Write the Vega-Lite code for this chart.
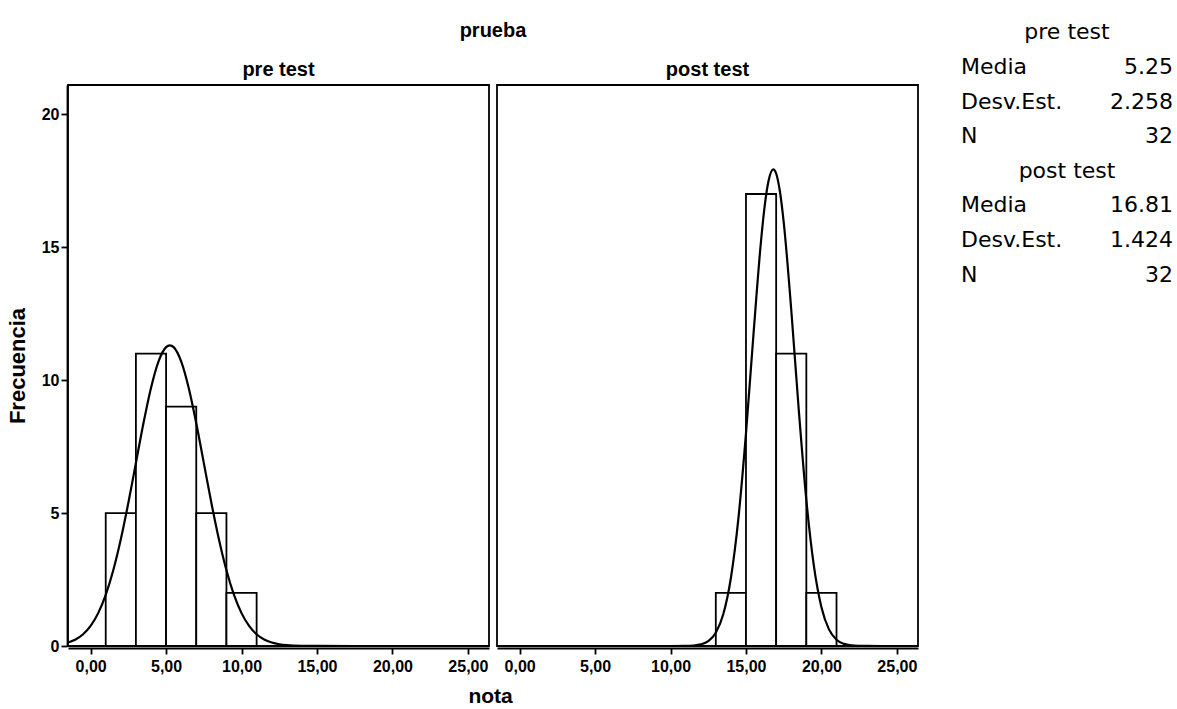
{
  "$schema": "https://vega.github.io/schema/vega-lite/v6.json",
  "background": "white",
  "padding": {"top": 21, "left": 6, "right": 0, "bottom": 0},
  "config": {
    "font": "Liberation Sans",
    "view": {"stroke": "black", "strokeWidth": 1.8},
    "axis": {
      "domainColor": "black", "tickColor": "black", "labelColor": "black", "titleColor": "black",
      "labelFont": "Liberation Sans", "labelFontWeight": "bold", "labelFontSize": 16,
      "titleFont": "Liberation Sans", "titleFontWeight": "bold", "titleFontSize": 22,
      "grid": false, "tickSize": 6, "tickWidth": 1.8, "domainWidth": 1.8
    }
  },
  "datasets": {
    "histo": [
      {"prueba": "pre test", "tipo": "barra", "desde": 1, "hasta": 3, "frecuencia": 5},
      {"prueba": "pre test", "tipo": "barra", "desde": 3, "hasta": 5, "frecuencia": 11},
      {"prueba": "pre test", "tipo": "barra", "desde": 5, "hasta": 7, "frecuencia": 9},
      {"prueba": "pre test", "tipo": "barra", "desde": 7, "hasta": 9, "frecuencia": 5},
      {"prueba": "pre test", "tipo": "barra", "desde": 9, "hasta": 11, "frecuencia": 2},
      {"prueba": "post test", "tipo": "barra", "desde": 13, "hasta": 15, "frecuencia": 2},
      {"prueba": "post test", "tipo": "barra", "desde": 15, "hasta": 17, "frecuencia": 17},
      {"prueba": "post test", "tipo": "barra", "desde": 17, "hasta": 19, "frecuencia": 11},
      {"prueba": "post test", "tipo": "barra", "desde": 19, "hasta": 21, "frecuencia": 2},
      {"prueba": "pre test", "tipo": "curva", "nota": -1.5, "densidad": 0.130},
      {"prueba": "pre test", "tipo": "curva", "nota": -1.0, "densidad": 0.245},
      {"prueba": "pre test", "tipo": "curva", "nota": -0.5, "densidad": 0.442},
      {"prueba": "pre test", "tipo": "curva", "nota": 0.0, "densidad": 0.758},
      {"prueba": "pre test", "tipo": "curva", "nota": 0.5, "densidad": 1.237},
      {"prueba": "pre test", "tipo": "curva", "nota": 1.0, "densidad": 1.924},
      {"prueba": "pre test", "tipo": "curva", "nota": 1.5, "densidad": 2.848},
      {"prueba": "pre test", "tipo": "curva", "nota": 2.0, "densidad": 4.014},
      {"prueba": "pre test", "tipo": "curva", "nota": 2.5, "densidad": 5.387},
      {"prueba": "pre test", "tipo": "curva", "nota": 3.0, "densidad": 6.884},
      {"prueba": "pre test", "tipo": "curva", "nota": 3.5, "densidad": 8.376},
      {"prueba": "pre test", "tipo": "curva", "nota": 4.0, "densidad": 9.703},
      {"prueba": "pre test", "tipo": "curva", "nota": 4.5, "densidad": 10.703},
      {"prueba": "pre test", "tipo": "curva", "nota": 5.0, "densidad": 11.241},
      {"prueba": "pre test", "tipo": "curva", "nota": 5.25, "densidad": 11.31},
      {"prueba": "pre test", "tipo": "curva", "nota": 5.5, "densidad": 11.241},
      {"prueba": "pre test", "tipo": "curva", "nota": 6.0, "densidad": 10.703},
      {"prueba": "pre test", "tipo": "curva", "nota": 6.5, "densidad": 9.703},
      {"prueba": "pre test", "tipo": "curva", "nota": 7.0, "densidad": 8.376},
      {"prueba": "pre test", "tipo": "curva", "nota": 7.5, "densidad": 6.884},
      {"prueba": "pre test", "tipo": "curva", "nota": 8.0, "densidad": 5.387},
      {"prueba": "pre test", "tipo": "curva", "nota": 8.5, "densidad": 4.014},
      {"prueba": "pre test", "tipo": "curva", "nota": 9.0, "densidad": 2.848},
      {"prueba": "pre test", "tipo": "curva", "nota": 9.5, "densidad": 1.924},
      {"prueba": "pre test", "tipo": "curva", "nota": 10.0, "densidad": 1.237},
      {"prueba": "pre test", "tipo": "curva", "nota": 10.5, "densidad": 0.758},
      {"prueba": "pre test", "tipo": "curva", "nota": 11.0, "densidad": 0.442},
      {"prueba": "pre test", "tipo": "curva", "nota": 11.5, "densidad": 0.245},
      {"prueba": "pre test", "tipo": "curva", "nota": 12.0, "densidad": 0.130},
      {"prueba": "pre test", "tipo": "curva", "nota": 12.5, "densidad": 0.065},
      {"prueba": "pre test", "tipo": "curva", "nota": 13.0, "densidad": 0.031},
      {"prueba": "pre test", "tipo": "curva", "nota": 14.0, "densidad": 0.006},
      {"prueba": "pre test", "tipo": "curva", "nota": 15.0, "densidad": 0.001},
      {"prueba": "pre test", "tipo": "curva", "nota": 20.0, "densidad": 0.0},
      {"prueba": "pre test", "tipo": "curva", "nota": 26.4, "densidad": 0.0},
      {"prueba": "post test", "tipo": "curva", "nota": -1.5, "densidad": 0.0},
      {"prueba": "post test", "tipo": "curva", "nota": 5.0, "densidad": 0.0},
      {"prueba": "post test", "tipo": "curva", "nota": 10.0, "densidad": 0.0},
      {"prueba": "post test", "tipo": "curva", "nota": 11.0, "densidad": 0.004},
      {"prueba": "post test", "tipo": "curva", "nota": 11.5, "densidad": 0.017},
      {"prueba": "post test", "tipo": "curva", "nota": 12.0, "densidad": 0.060},
      {"prueba": "post test", "tipo": "curva", "nota": 12.5, "densidad": 0.184},
      {"prueba": "post test", "tipo": "curva", "nota": 13.0, "densidad": 0.500},
      {"prueba": "post test", "tipo": "curva", "nota": 13.5, "densidad": 1.203},
      {"prueba": "post test", "tipo": "curva", "nota": 14.0, "densidad": 2.559},
      {"prueba": "post test", "tipo": "curva", "nota": 14.5, "densidad": 4.810},
      {"prueba": "post test", "tipo": "curva", "nota": 15.0, "densidad": 7.994},
      {"prueba": "post test", "tipo": "curva", "nota": 15.5, "densidad": 11.744},
      {"prueba": "post test", "tipo": "curva", "nota": 16.0, "densidad": 15.252},
      {"prueba": "post test", "tipo": "curva", "nota": 16.25, "densidad": 16.60},
      {"prueba": "post test", "tipo": "curva", "nota": 16.5, "densidad": 17.510},
      {"prueba": "post test", "tipo": "curva", "nota": 16.81, "densidad": 17.93},
      {"prueba": "post test", "tipo": "curva", "nota": 17.0, "densidad": 17.771},
      {"prueba": "post test", "tipo": "curva", "nota": 17.25, "densidad": 17.095},
      {"prueba": "post test", "tipo": "curva", "nota": 17.5, "densidad": 15.944},
      {"prueba": "post test", "tipo": "curva", "nota": 18.0, "densidad": 12.646},
      {"prueba": "post test", "tipo": "curva", "nota": 18.5, "densidad": 8.866},
      {"prueba": "post test", "tipo": "curva", "nota": 19.0, "densidad": 5.495},
      {"prueba": "post test", "tipo": "curva", "nota": 19.5, "densidad": 3.011},
      {"prueba": "post test", "tipo": "curva", "nota": 20.0, "densidad": 1.458},
      {"prueba": "post test", "tipo": "curva", "nota": 20.5, "densidad": 0.624},
      {"prueba": "post test", "tipo": "curva", "nota": 21.0, "densidad": 0.236},
      {"prueba": "post test", "tipo": "curva", "nota": 21.5, "densidad": 0.079},
      {"prueba": "post test", "tipo": "curva", "nota": 22.0, "densidad": 0.023},
      {"prueba": "post test", "tipo": "curva", "nota": 22.5, "densidad": 0.006},
      {"prueba": "post test", "tipo": "curva", "nota": 23.0, "densidad": 0.001},
      {"prueba": "post test", "tipo": "curva", "nota": 24.0, "densidad": 0.0},
      {"prueba": "post test", "tipo": "curva", "nota": 26.4, "densidad": 0.0}
    ],
    "stats": [
      {"fila": 1, "tipo": "encabezado", "texto": "pre test"},
      {"fila": 2, "tipo": "etiqueta", "texto": "Media"},
      {"fila": 2, "tipo": "valor", "texto": "5.25"},
      {"fila": 3, "tipo": "etiqueta", "texto": "Desv.Est."},
      {"fila": 3, "tipo": "valor", "texto": "2.258"},
      {"fila": 4, "tipo": "etiqueta", "texto": "N"},
      {"fila": 4, "tipo": "valor", "texto": "32"},
      {"fila": 5, "tipo": "encabezado", "texto": "post test"},
      {"fila": 6, "tipo": "etiqueta", "texto": "Media"},
      {"fila": 6, "tipo": "valor", "texto": "16.81"},
      {"fila": 7, "tipo": "etiqueta", "texto": "Desv.Est."},
      {"fila": 7, "tipo": "valor", "texto": "1.424"},
      {"fila": 8, "tipo": "etiqueta", "texto": "N"},
      {"fila": 8, "tipo": "valor", "texto": "32"}
    ]
  },
  "hconcat": [
    {
      "data": {"name": "histo"},
      "title": {"text": "nota", "orient": "bottom", "anchor": "middle", "font": "Liberation Sans", "fontSize": 21, "fontWeight": "bold", "color": "black", "offset": 12, "dx": 28},
      "facet": {
        "column": {"field": "prueba", "type": "nominal", "sort": ["pre test", "post test"], "title": "prueba",
          "header": {
            "titleFont": "Liberation Sans", "titleFontWeight": "bold", "titleFontSize": 20, "titleColor": "black", "titlePadding": 9,
            "labelFont": "Liberation Sans", "labelFontWeight": "bold", "labelFontSize": 20, "labelColor": "black", "labelPadding": 4
          }}
      },
      "spacing": 6,
      "spec": {
        "width": 421,
        "height": 561,
        "layer": [
          {
            "transform": [{"filter": "datum.tipo === 'barra'"}],
            "mark": {"type": "rect", "fill": "white", "stroke": "black", "strokeWidth": 1.8},
            "encoding": {
              "x": {"field": "desde", "type": "quantitative",
                "scale": {"domain": [-1.5, 26.4], "nice": false, "zero": false},
                "axis": {"title": null, "values": [0, 5, 10, 15, 20, 25], "labelExpr": "replace(format(datum.value, '.2f'), '.', ',')", "labelPadding": 4}},
              "x2": {"field": "hasta"},
              "y": {"field": "frecuencia", "type": "quantitative",
                "scale": {"domain": [0, 21.1], "nice": false},
                "axis": {"title": "Frecuencia", "values": [0, 5, 10, 15, 20], "labelPadding": 2, "titlePadding": 12}},
              "y2": {"datum": 0}
            }
          },
          {
            "transform": [{"filter": "datum.tipo === 'curva'"}],
            "mark": {"type": "line", "color": "black", "strokeWidth": 2.2, "interpolate": "monotone", "clip": true},
            "encoding": {
              "x": {"field": "nota", "type": "quantitative"},
              "y": {"field": "densidad", "type": "quantitative"}
            }
          }
        ]
      }
    },
    {
      "data": {"name": "stats"},
      "width": 212,
      "height": 277,
      "view": {"stroke": null},
      "encoding": {
        "x": {"field": "tipo", "type": "nominal", "scale": {"type": "point", "domain": ["etiqueta", "encabezado", "valor"], "padding": 0}, "axis": null},
        "y": {"field": "fila", "type": "ordinal", "scale": {"type": "point", "padding": 0.5}, "axis": null},
        "text": {"field": "texto"}
      },
      "layer": [
        {"transform": [{"filter": "datum.tipo === 'encabezado'"}],
         "mark": {"type": "text", "align": "center", "baseline": "middle", "dy": -70, "font": "DejaVu Sans", "fontSize": 22, "color": "black"}},
        {"transform": [{"filter": "datum.tipo === 'etiqueta'"}],
         "mark": {"type": "text", "align": "left", "baseline": "middle", "dy": -70, "font": "DejaVu Sans", "fontSize": 22, "color": "black"}},
        {"transform": [{"filter": "datum.tipo === 'valor'"}],
         "mark": {"type": "text", "align": "right", "baseline": "middle", "dy": -70, "font": "DejaVu Sans", "fontSize": 22, "color": "black"}}
      ]
    }
  ],
  "spacing": 42
}
